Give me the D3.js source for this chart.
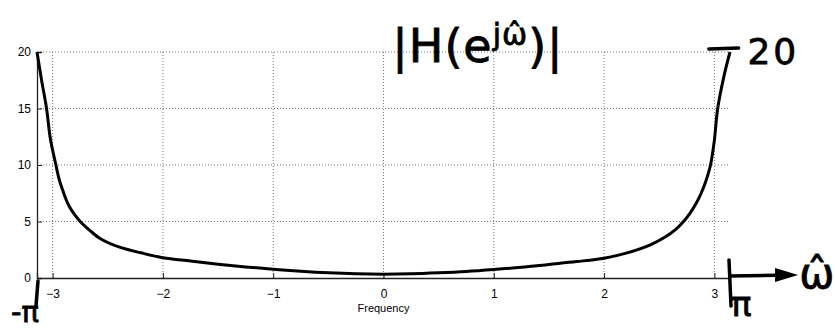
<!DOCTYPE html>
<html>
<head>
<meta charset="utf-8">
<script src="https://cdn.jsdelivr.net/npm/d3@7"></script>
<style>
  body { margin: 0; background: #fff; }
  svg { display: block; }
  .tick text { font-family: "Liberation Sans", Arial, sans-serif; }
  .hand { font-family: "DejaVu Sans", sans-serif; fill: #000; stroke: #000; stroke-width: 0.8px; }
</style>
</head>
<body>
<div id="chart"></div>
<script>
// frequency (rad/sample) and magnitude
const omega = [-3.1416, -3.10, -3.055, -3.02, -2.97, -2.94, -2.91, -2.88, -2.85, -2.80,
               -2.75, -2.65, -2.57, -2.4, -2.2, -2.0, -1.75, -1.5, -1.25, -1.0,
               -0.75, -0.5, -0.25, 0, 0.25, 0.5, 0.75, 1.0, 1.25, 1.5,
               1.75, 2.0, 2.2, 2.42, 2.55, 2.65, 2.72, 2.78, 2.84, 2.88,
               2.92, 2.965, 3.0, 3.03, 3.09, 3.1416];
const mag = [20, 17.5, 15, 12.3, 10, 8.7, 7.8, 7.0, 6.35, 5.6,
             5, 4.1, 3.5, 2.75, 2.23, 1.79, 1.5, 1.22, 0.98, 0.78,
             0.6, 0.46, 0.37, 0.34, 0.37, 0.46, 0.58, 0.75, 0.95, 1.2,
             1.45, 1.75, 2.2, 2.94, 3.6, 4.3, 5, 5.75, 6.7, 7.5,
             8.5, 10, 12.2, 15, 18, 20];
const xTicks = [-3, -2, -1, 0, 1, 2, 3];
const yTicks = [0, 5, 10, 15, 20];

const W = 835, H = 333;
const margin = { top: 52, right: 105, bottom: 55, left: 37 };
const width = W - margin.left - margin.right;
const height = H - margin.top - margin.bottom;

const svg = d3.select('#chart')
  .append('svg')
    .attr('width', W)
    .attr('height', H)
  .append('g')
    .attr('transform', `translate(${margin.left},${margin.top})`);

const x = d3.scaleLinear().domain([-Math.PI, Math.PI]).range([0, width]);
const y = d3.scaleLinear().domain([0, 20]).range([height, 0]);

// dotted grid
svg.append('g').selectAll('line.vg')
  .data(xTicks).enter().append('line')
    .attr('x1', d => x(d)).attr('x2', d => x(d))
    .attr('y1', 0).attr('y2', height)
    .style('stroke', '#777').style('stroke-dasharray', '1,2').style('stroke-width', 1);
svg.append('g').selectAll('line.hg')
  .data(yTicks.filter(d => d > 0)).enter().append('line')
    .attr('x1', 0).attr('x2', width)
    .attr('y1', d => y(d)).attr('y2', d => y(d))
    .style('stroke', '#777').style('stroke-dasharray', '1,2').style('stroke-width', 1);

// axes
const xAxis = svg.append('g')
  .attr('transform', `translate(0,${height})`)
  .call(d3.axisBottom(x).tickValues(xTicks).tickSize(-5).tickPadding(9).tickFormat(d3.format('d')));
const yAxis = svg.append('g')
  .call(d3.axisLeft(y).tickValues(yTicks).tickSize(-5).tickPadding(6));
[xAxis, yAxis].forEach(a => {
  a.select('.domain').style('stroke', '#222').style('stroke-width', 1.3);
  a.selectAll('.tick line').style('stroke', '#222');
  a.selectAll('.tick text').style('font-size', '12px').style('fill', '#000');
});
xAxis.selectAll('.tick text').attr('dy', '0.9em');

svg.append('text')
  .attr('x', x(0)).attr('y', height + 34)
  .attr('text-anchor', 'middle')
  .style('font-family', '"Liberation Sans", Arial, sans-serif')
  .style('font-size', '11px')
  .text('Frequency');

// magnitude curve
const pts = omega.map((w, i) => ({ w: w, m: mag[i] }));
const line = d3.line()
  .x(d => x(d.w))
  .y(d => y(d.m))
  .curve(d3.curveCatmullRom.alpha(0.5));
svg.append('path')
  .datum(pts)
  .attr('d', line)
  .style('fill', 'none')
  .style('stroke', '#000')
  .style('stroke-width', 3);

// hand written notes
const pen = { stroke: '#000', 'stroke-width': 3.5, fill: 'none', 'stroke-linecap': 'round' };
function stroke(d) {
  const p = svg.append('path').attr('d', d);
  Object.entries(pen).forEach(([k, v]) => p.style(k, v));
  return p;
}

const title = svg.append('text')
  .attr('class', 'hand')
  .attr('x', x(0.08)).attr('y', 10)
  .style('font-size', '46px')
  .style('letter-spacing', '1px');
title.append('tspan').text('|H(e');
title.append('tspan').attr('dy', -17).style('font-size', '30px').text('jω̂');
title.append('tspan').attr('dy', 17).text(')|');

// "T 20" at the top right
stroke(`M${x(2.95)},${y(20) - 3} L${x(3.22)},${y(20) - 4}`);
svg.append('text').attr('class', 'hand')
  .attr('x', x(3.30)).attr('y', y(20) + 12)
  .style('font-size', '36px').style('letter-spacing', '3px').text('20');

// -pi mark at left
stroke(`M${x(-Math.PI) + 1},${height + 3} L${x(-Math.PI) - 1},${height + 28}`);
svg.append('text').attr('class', 'hand')
  .attr('x', x(-Math.PI) - 26).attr('y', height + 44)
  .style('font-size', '29px').text('-π');

// pi mark and omega-hat arrow at right
stroke(`M${x(Math.PI) - 1},${height - 18} L${x(Math.PI) + 1},${height + 28}`);
stroke(`M${x(Math.PI)},${height - 2} L${x(3.68)},${height - 3}`);
svg.append('path')
  .attr('d', `M${x(3.55)},${height - 10} L${x(3.76)},${height - 3} L${x(3.55)},${height + 4} Z`)
  .style('fill', '#000');
svg.append('text').attr('class', 'hand')
  .attr('x', x(3.77)).attr('y', height + 10)
  .style('font-size', '42px').text('ω̂');
svg.append('text').attr('class', 'hand')
  .attr('x', x(Math.PI) + 1).attr('y', height + 38)
  .style('font-size', '34px').text('π');
</script>
</body>
</html>
